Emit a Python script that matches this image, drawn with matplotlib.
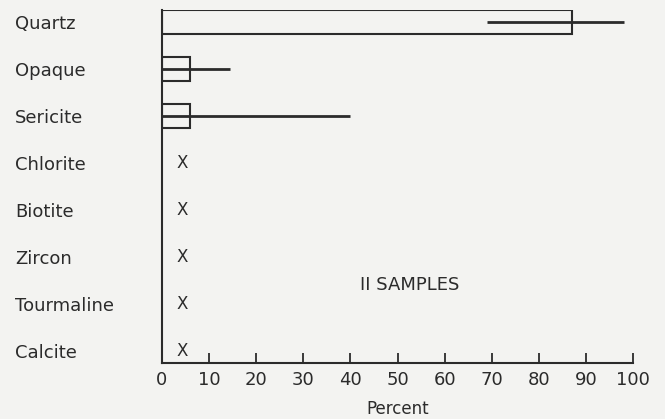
import matplotlib

matplotlib.use("Agg")
import matplotlib.pyplot as plt

minerals = ["Quartz", "Opaque", "Sericite", "Chlorite", "Biotite", "Zircon", "Tourmaline", "Calcite"]
mean_pct = [87, 6, 6]
range_low = [69, 0, 0]
range_high = [98, 14.5, 40]
trace_pct = 4.3
note = "II SAMPLES"

ink = "#2b2b2b"
paper = "#f3f3f1"

fig = plt.figure(figsize=(6.65, 4.19), dpi=100, facecolor=paper)
ax = fig.add_axes([0.2436, 0.1337, 0.7083, 0.8425], facecolor=paper)

rows = list(range(len(minerals)))
n_bars = len(mean_pct)
ax.barh(rows[:n_bars], mean_pct, height=0.5, color=paper, edgecolor=ink, linewidth=1.5)
ax.hlines(rows[:n_bars], range_low, range_high, color=ink, linewidth=2)
for r in rows[n_bars:]:
    ax.text(trace_pct, r, "X", ha="center", va="center", fontsize=12, color=ink)

ax.text(52.5, 5.6, note, ha="center", va="center", fontsize=13, color=ink)

ax.set_xlim(0, 100)
ax.set_ylim(7.26, -0.26)
ax.set_yticks(rows)
ax.set_yticklabels(minerals, ha="left")
ax.set_xticks(range(0, 101, 10))
ax.set_xticklabels(["0"] + [str(v) for v in range(10, 101, 10)])
# left-aligned labels starting ~15 px from the figure edge
ax.tick_params(axis="y", length=0, pad=(162 - 15) * 0.72, labelsize=13, colors=ink)
ax.tick_params(axis="x", direction="in", length=7, width=1.3, pad=6, labelsize=13, colors=ink)
ax.xaxis.get_major_ticks()[0].tick1line.set_visible(False)
ax.set_xlabel("Percent", fontsize=12, color=ink, labelpad=8)

for side in ("top", "right"):
    ax.spines[side].set_visible(False)
for side in ("left", "bottom"):
    ax.spines[side].set_color(ink)
    ax.spines[side].set_linewidth(1.5)

fig.savefig("out.png", facecolor=paper)
